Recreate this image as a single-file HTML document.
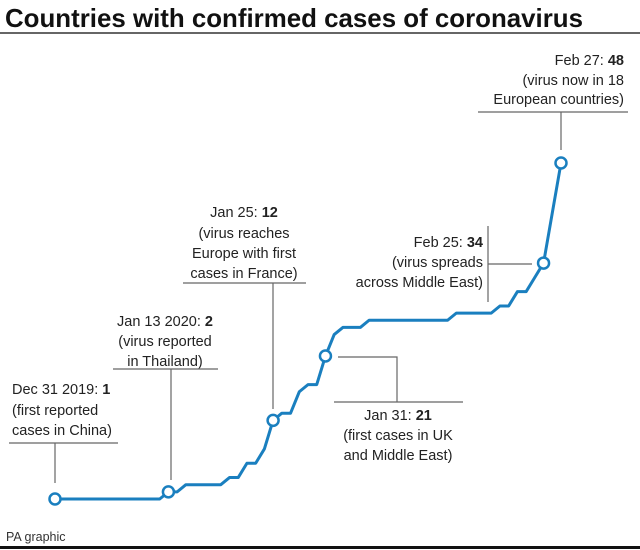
<!DOCTYPE html>
<html><head><meta charset="utf-8"><style>
html,body{margin:0;padding:0;background:#fff}
svg{display:block;font-family:"Liberation Sans",sans-serif}
.a{font-size:14.5px;fill:#222}
.l{stroke:#666;stroke-width:1.2;fill:none}
</style></head><body>
<svg width="640" height="550" viewBox="0 0 640 550">
<text x="5" y="27" font-size="26" font-weight="bold" fill="#111" textLength="578" lengthAdjust="spacingAndGlyphs">Countries with confirmed cases of coronavirus</text>
<line x1="0" y1="33" x2="640" y2="33" stroke="#333" stroke-width="1.5"/>
<g id="ann">
<g>
<text class="a" x="12" y="394">Dec 31 2019: <tspan font-weight="bold">1</tspan></text>
<text class="a" x="12" y="415">(first reported</text>
<text class="a" x="12" y="435">cases in China)</text>
<path class="l" d="M9 443H118M55 443V483"/></g>
<g text-anchor="middle">
<text class="a" x="165" y="326">Jan 13 2020: <tspan font-weight="bold">2</tspan></text>
<text class="a" x="165" y="346">(virus reported</text>
<text class="a" x="165" y="366">in Thailand)</text>
<path class="l" d="M113 369H218M171 369V480"/></g>
<g text-anchor="middle">
<text class="a" x="244" y="217">Jan 25: <tspan font-weight="bold">12</tspan></text>
<text class="a" x="244" y="238">(virus reaches</text>
<text class="a" x="244" y="258">Europe with first</text>
<text class="a" x="244" y="278">cases in France)</text>
<path class="l" d="M183 283H306M273 283V409"/></g>
<g text-anchor="middle">
<text class="a" x="398" y="420">Jan 31: <tspan font-weight="bold">21</tspan></text>
<text class="a" x="398" y="440">(first cases in UK</text>
<text class="a" x="398" y="460">and Middle East)</text>
<path class="l" d="M338 357H397V402M334 402H463"/></g>
<g text-anchor="end">
<text class="a" x="483" y="247">Feb 25: <tspan font-weight="bold">34</tspan></text>
<text class="a" x="483" y="267">(virus spreads</text>
<text class="a" x="483" y="287">across Middle East)</text>
<path class="l" d="M488 226V302M488 264H532"/></g>
<g text-anchor="end">
<text class="a" x="624" y="65">Feb 27: <tspan font-weight="bold">48</tspan></text>
<text class="a" x="624" y="85">(virus now in 18</text>
<text class="a" x="624" y="104">European countries)</text>
<path class="l" d="M478 112H628M561 112V150"/></g>
</g>
<g id="plot"></g>
<text x="6" y="541" font-size="12.5" fill="#333">PA graphic</text>
<line x1="0" y1="547.5" x2="640" y2="547.5" stroke="#111" stroke-width="3"/>
</svg>
<script>
const days = [0,1,2,3,4,5,6,7,8,9,10,11,12,13,14,15,16,17,18,19,20,21,22,23,24,25,26,27,28,29,30,31,32,33,34,35,36,37,38,39,40,41,42,43,44,45,46,47,48,49,50,51,52,53,54,55,56,57,58];
const counts = [1,1,1,1,1,1,1,1,1,1,1,1,1,2,2,3,3,3,3,3,4,4,6,6,8,12,13,13,16,17,17,21,24,25,25,25,26,26,26,26,26,26,26,26,26,26,27,27,27,27,27,28,28,30,30,32,34,41,48];
const markedDays = [0,13,25,31,56,58];
const x = d => 55 + d * (506 / 58);
const y = v => 499 - (v - 1) * (336 / 47);
const NS = "http://www.w3.org/2000/svg";
const plot = document.getElementById('plot');
const line = document.createElementNS(NS,'polyline');


line.setAttribute('points', days.map((d,i)=>x(d)+','+y(counts[i])).join(' '));
line.setAttribute('fill','none');
line.setAttribute('stroke','#1a7fbf');
line.setAttribute('stroke-width','3');
line.setAttribute('stroke-linejoin','round');
plot.appendChild(line);
markedDays.forEach(d=>{
  const c = document.createElementNS(NS,'circle');
  
  
  c.setAttribute('cx', x(d));
  c.setAttribute('cy', y(counts[days.indexOf(d)]));
  c.setAttribute('r', 5.5);
  c.setAttribute('fill','#fff');
  c.setAttribute('stroke','#1a7fbf');
  c.setAttribute('stroke-width','2.5');
  plot.appendChild(c);
});
</script>
</body></html>
